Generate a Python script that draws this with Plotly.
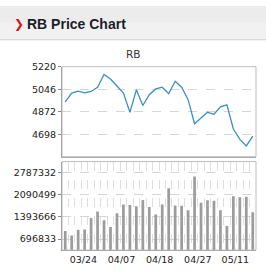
import plotly.graph_objects as go

# ---- data ----
idx = list(range(30))
price = [4948, 5016, 5031, 5018, 5028, 5061, 5159, 5124, 5071, 5016,
         4867, 5041, 4920, 5003, 5048, 5061, 5011, 5107, 5061, 4965,
         4779, 4827, 4867, 4852, 4910, 4925, 4738, 4658, 4607, 4683]
volume = [951700, 809000, 992600, 995000, 1359700, 1563600, 1288300, 1074200, 1512600, 1788000,
          1767600, 1726800, 1930700, 1706400, 1471800, 1788000, 2297800, 1757400, 1747200, 1604400,
          2665000, 1839000, 1920500, 1900100, 1604400, 1104700, 2042900, 2012300, 2032700, 1543200]
x_tick_pos = [2.8, 8.7, 14.6, 20.5, 26.3]
x_tick_labels = ["03/24", "04/07", "04/18", "04/27", "05/11"]
price_ticks = [4698, 4872, 5046, 5220]
price_range = [4524, 5220]
vol_ticks = [696833, 1393666, 2090499, 2787332]
vol_tick_labels = ["696833", "1393666", "2090499", "2787332"]
vol_range = [348416, 3135748]

W, H = 266, 280
def px(x): return x / W
def py(y): return 1 - y / H

FONT = "DejaVu Sans"
xd = [px(62), px(256)]
yd_top = [py(154), py(62)]
yd_bot = [py(249.5), py(159)]

fig = go.Figure()
fig.add_trace(go.Scatter(x=idx, y=price, mode="lines",
                         line=dict(color="#3b8fc6", width=1.3),
                         xaxis="x", yaxis="y", showlegend=False))
fig.add_trace(go.Bar(x=idx, y=volume, marker=dict(color="#9c9c9c", line=dict(width=0)),
                     width=0.42, xaxis="x2", yaxis="y2", showlegend=False))

grid = dict(gridcolor="#d6d6d6", griddash="dash", gridwidth=1)
fig.update_layout(
    width=W, height=H, margin=dict(l=0, r=0, t=0, b=0),
    paper_bgcolor="white", plot_bgcolor="white",
    font=dict(family=FONT, size=10, color="#333"),
    xaxis=dict(domain=xd, anchor="y", range=[-0.5, 29.5], showticklabels=False,
               showgrid=False, zeroline=False, showline=True, linecolor="#a8a8a8",
               ticks="", fixedrange=True),
    yaxis=dict(domain=yd_top, anchor="x", range=price_range, tickvals=price_ticks,
               showline=True, linecolor="#8a8a8a", ticks="outside", ticklen=3,
               tickcolor="#8a8a8a", tickfont=dict(family=FONT, size=9.5, color="#222"),
               zeroline=False, **grid),
    xaxis2=dict(domain=xd, anchor="y2", range=[-0.5, 29.5], tickvals=x_tick_pos,
                ticktext=x_tick_labels, ticks="", showgrid=False, zeroline=False,
                showline=True, linecolor="#8a8a8a",
                tickfont=dict(family=FONT, size=9.5, color="#222"),
                minor=dict(showgrid=True, tick0=0.5, dtick=1, gridcolor="#dedede",
                           griddash="dash", gridwidth=1)),
    yaxis2=dict(domain=yd_bot, anchor="x2", range=vol_range, tickvals=vol_ticks,
                ticktext=vol_tick_labels,
                showline=True, linecolor="#8a8a8a", ticks="outside", ticklen=3,
                tickcolor="#8a8a8a", tickfont=dict(family=FONT, size=9.5, color="#222"),
                zeroline=False, **grid),
    bargap=0.5,
)

shapes = [
    dict(type="rect", xref="paper", yref="paper", x0=0, x1=1, y0=py(34), y1=1,
         fillcolor="#f1f1f1", line=dict(width=0), layer="below"),
    dict(type="rect", xref="paper", yref="paper", x0=0, x1=1, y0=py(17), y1=1,
         fillcolor="#ececec", line=dict(width=0), layer="below"),
    dict(type="line", xref="paper", yref="paper", x0=0, x1=1, y0=py(34.5), y1=py(34.5),
         line=dict(color="#cfcfcf", width=1)),
    dict(type="rect", xref="x domain", yref="y domain", x0=0, x1=1, y0=0, y1=1,
         line=dict(color="#bdbdbd", width=1), layer="above"),
    dict(type="rect", xref="x2 domain", yref="y2 domain", x0=0, x1=1, y0=0, y1=1,
         line=dict(color="#bdbdbd", width=1), layer="above"),
]
fig.update_layout(shapes=shapes)

fig.add_annotation(x=px(12), y=py(18), xref="paper", yref="paper", xanchor="left",
                   yanchor="middle", text="❯", showarrow=False,
                   font=dict(family="DejaVu Sans", size=12, color="#d8140c"))
fig.add_annotation(x=px(25), y=py(18), xref="paper", yref="paper", xanchor="left",
                   yanchor="middle", text="<b>RB Price Chart</b>", showarrow=False,
                   font=dict(family="Liberation Sans", size=14, color="#1e1e28"))
fig.add_annotation(x=px(133), y=py(49), xref="paper", yref="paper", xanchor="center",
                   yanchor="middle", text="RB", showarrow=False,
                   font=dict(family=FONT, size=10.5, color="#333"))

fig.write_html("out.html")
